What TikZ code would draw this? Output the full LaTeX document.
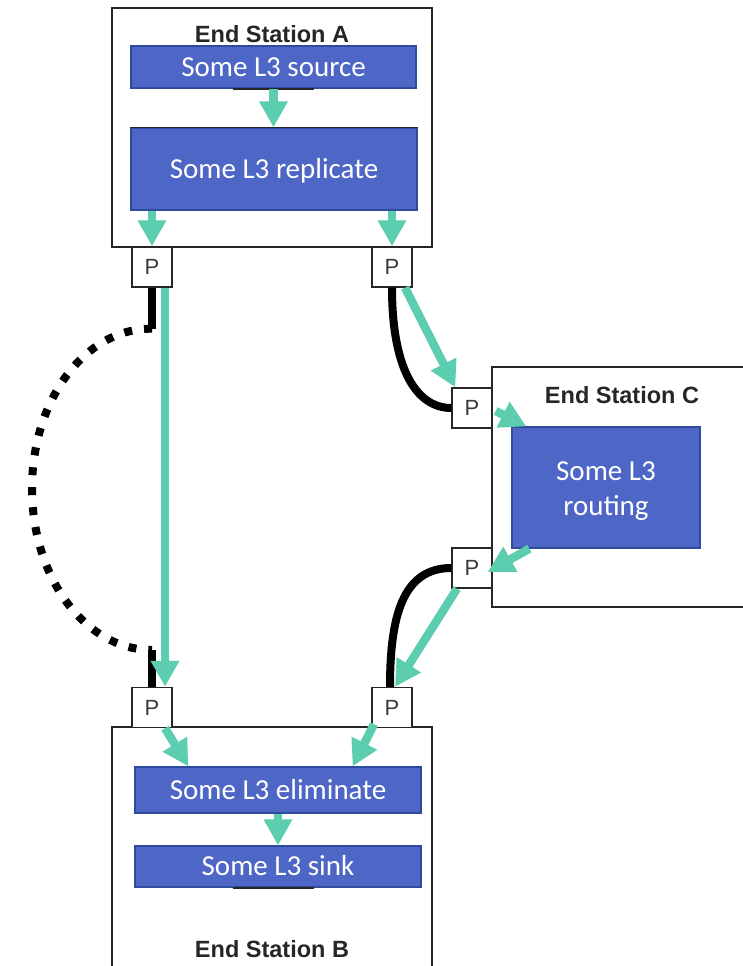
\documentclass[tikz,border=0pt]{standalone}
\usepackage{fontspec}
\setmainfont{Liberation Sans}
\newfontfamily\calfont{Carlito}
\usetikzlibrary{arrows.meta,calc}
\definecolor{blueF}{HTML}{4E66C6}
\definecolor{blueD}{HTML}{2F4B9E}
\definecolor{tealF}{HTML}{5CCDAE}
\definecolor{ink}{HTML}{262626}
\definecolor{pgray}{HTML}{3A3A3A}
\tikzset{
 station/.style={draw=ink, line width=1.6pt, fill=white, rectangle, inner sep=0pt},
 bluebox/.style={draw=blueD, line width=1.3pt, fill=blueF, inner sep=0pt, text=white,
   font=\calfont\fontsize{29}{35}\selectfont, text height=18.7pt, text depth=0pt},
 bluetext/.style={text=white, font=\calfont\fontsize{29}{35}\selectfont, anchor=base, inner sep=0pt},
 port/.style={draw=ink, line width=1.4pt, fill=white, minimum width=40pt, minimum height=40pt,
   inner sep=0pt, font=\fontsize{22}{24}\selectfont, text=pgray},
 title/.style={font=\bfseries\fontsize{23.5}{26}\selectfont, text=ink, anchor=base, inner sep=0pt},
 flow/.style={draw=tealF, line width=8.5pt, -{Triangle[width=27pt,length=26pt]}},
 wire/.style={draw=black, line width=8pt},
 airwire/.style={draw=black, line width=8pt, dash pattern=on 8pt off 12pt},
 edgebar/.style={draw=ink, line width=1.5pt},
}
\begin{document}
\begin{tikzpicture}[x=1pt,y=-1pt]
\useasboundingbox (0,0) rectangle (742,966);
% stations
\node[station, minimum width=320pt, minimum height=239pt] (stA) at (272,127.5) {};
\node[station, minimum width=320pt, minimum height=253pt] (stB) at (272,853.5) {};
\node[station, minimum width=268pt, minimum height=240pt] (stC) at (626,487) {};
\node[title] (tA) at (272,43) {End Station A};
\node[title] (tB) at (272,957) {End Station B};
\node[title] (tC) at (622,403) {End Station C};
% blue boxes
\node[bluebox, minimum width=285pt, minimum height=42pt] (src) at (273.5,67) {Some L3 source};
\node[bluebox, minimum width=286pt, minimum height=82pt] (rep) at (274,169) {Some L3 replicate};
\node[bluebox, minimum width=286pt, minimum height=46pt] (elim) at (278,790) {Some L3 eliminate};
\node[bluebox, minimum width=286pt, minimum height=41pt] (sink) at (278,866.5) {Some L3 sink};
\node[bluebox, minimum width=188pt, minimum height=121pt] (rout) at (606,487.5) {};
\node[bluetext] (rt1) at (606,480) {Some L3};
\node[bluetext] (rt2) at (606,515) {routing};
\draw[edgebar] ($(src.south)+(-41,0.5)$) -- ($(src.south)+(40,0.5)$);
\draw[edgebar] (rep.north west) -- (rep.north east);
\draw[edgebar] ($(sink.south)+(-45,0.5)$) -- ($(sink.south)+(36,0.5)$);
% ports
\node[port] (pA1) at (152,267) {P};
\node[port] (pA2) at (392,267) {P};
\node[port] (pB1) at (152,707.5) {P};
\node[port] (pB2) at (392,707.5) {P};
\node[port] (pC1) at (472,408) {P};
\node[port] (pC2) at (472,568) {P};
% black wires
\draw[wire] (pA1.south) -- ++(0,41) coordinate (d1);
\coordinate (d2) at (152,650);
\draw[airwire] (d1) .. controls (85,328) and (32,400) .. (32,488.5)
  .. controls (32,577) and (85,650) .. (d2);
\draw[wire] (d2) -- (pB1.north);
\draw[wire] (pA2.south) .. controls (392,372) and (418,408) .. (pC1.west);
\draw[wire] (pC2.west) .. controls (402,568) and (390,618) .. ($(pB2.north)+(-2,0)$);
% teal flows
\draw[flow] (src.south) -- (src.south |- rep.north);
\draw[flow] (pA1 |- rep.south) -- (pA1.north);
\draw[flow] (pA2 |- rep.south) -- (pA2.north);
\draw[flow] ($(pA1.south)+(13,0)$) -- ($(pB1.north)+(13,0)$);
\draw[flow] ($(pA2.south)+(13,0)$) -- ($(pC1.north west)+(4,0)$);
\draw[flow] ($(pC1.east)+(3,3)$) -- ($(rout.north west)+(15,0)$);
\draw[flow] ($(rout.south west)+(18,0)$) -- ($(pC2.east)+(-5,4)$);
\draw[flow] ($(pC2.south)+(-15,0)$) -- ($(pB2.north)+(3,0)$);
\draw[flow] ($(pB1.south)+(13,0)$) -- ($(elim.north west)+(54,0)$);
\draw[flow] ($(pB2.south)+(-18,-4)$) -- ($(elim.north east)+(-69,0)$);
\draw[flow] (elim.south) -- (elim.south |- sink.north);
\end{tikzpicture}
\end{document}
